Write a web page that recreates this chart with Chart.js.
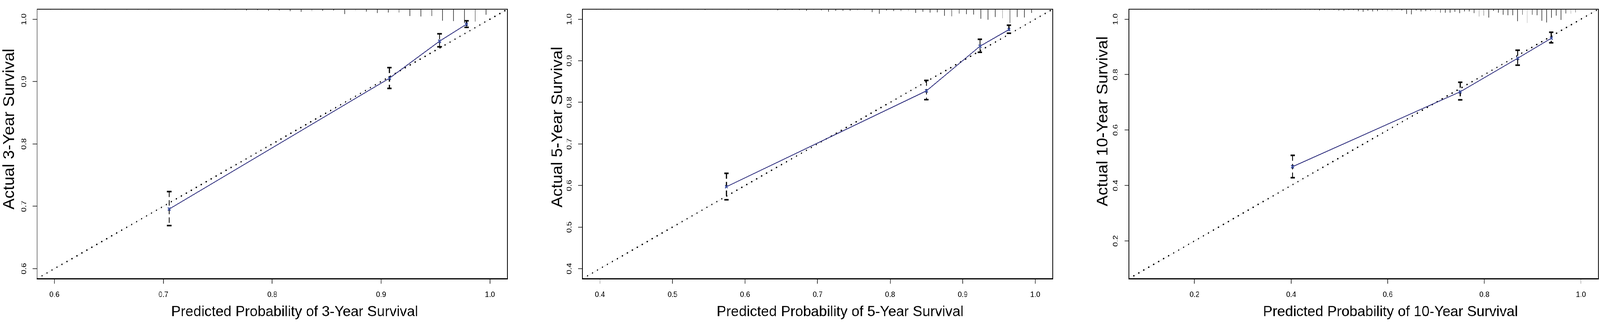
<!DOCTYPE html>
<html>
<head>
<meta charset="utf-8">
<script src="https://cdn.jsdelivr.net/npm/chart.js@4.4.1/dist/chart.umd.min.js"></script>
<style>
  html, body { margin: 0; padding: 0; background: #fff; overflow: hidden; }
  #wrap { position: absolute; left: 0; top: 0; width: 4724px; height: 824px; transform-origin: 0 0; }
  canvas { position: absolute; top: 0; }
</style>
</head>
<body>
<div id="wrap">
<canvas id="c3" width="1520" height="824" style="left:0px"></canvas>
<canvas id="c5" width="1570" height="824" style="left:1560px"></canvas>
<canvas id="c10" width="1549" height="824" style="left:3175px"></canvas>
</div>
<script>
// ---- 3-year calibration ----
const lim3 = [0.584, 1.016];
const ticks3 = [0.6, 0.7, 0.8, 0.9, 1.0];
const pred3 = [0.7054, 0.9077, 0.9537, 0.9785];
const obs3 = [0.6956, 0.9054, 0.9647, 0.992];
const lo3 = [0.669, 0.889, 0.9557, 0.987];
const hi3 = [0.7236, 0.9224, 0.9766, 0.9974];
const rugX3 = [0.5865,0.5965,0.6065,0.6165,0.6265,0.6365,0.6465,0.6565,0.6665,0.6765,
  0.6865,0.6965,0.7065,0.7165,0.7265,0.7365,0.7465,0.7565,0.7665,0.7765,
  0.7865,0.7965,0.8065,0.8165,0.8265,0.8365,0.8465,0.8565,0.8665,0.8765,
  0.8865,0.8965,0.9065,0.9165,0.9265,0.9365,0.9465,0.9565,0.9665,0.9765,
  0.9865,0.9965];
const rugN3 = [1,1,0.7,1,0.7,1,1,0.7,1,1,
  1.3,1,1.3,1,1.3,1.3,1,1.7,2,3.3,
  2.3,4.3,3.3,5,6.7,5,4.3,3.3,12.8,4.7,
  6.2,10,8.7,8.7,17.7,19.2,17.7,30,31,36,
  32.3,14.6];

// ---- 5-year calibration ----
const lim5 = [0.376, 1.024];
const ticks5 = [0.4, 0.5, 0.6, 0.7, 0.8, 0.9, 1.0];
const pred5 = [0.5743, 0.850, 0.9238, 0.9637];
const obs5 = [0.597, 0.8276, 0.935, 0.975];
const lo5 = [0.5657, 0.8064, 0.9205, 0.9663];
const hi5 = [0.6292, 0.8527, 0.9518, 0.9855];
const rugX5 = [0.385,0.395,0.405,0.415,0.425,0.435,0.445,0.455,0.465,0.475,
  0.485,0.495,0.505,0.515,0.525,0.535,0.545,0.555,0.565,0.575,
  0.585,0.595,0.605,0.615,0.625,0.635,0.645,0.655,0.665,0.675,
  0.685,0.695,0.705,0.715,0.725,0.735,0.745,0.755,0.765,0.775,
  0.785,0.795,0.805,0.815,0.825,0.835,0.845,0.855,0.865,0.875,
  0.885,0.895,0.905,0.915,0.925,0.935,0.945,0.955,0.965,0.975,
  0.985,0.995];
const rugN5 = [0.7,0.7,0.7,1.5,0.7,1,0.7,0.7,0.7,0.7,
  0.7,0.7,0.7,0.7,0.7,1,2,0.7,0.7,0.7,
  0.7,0.7,2,0.7,0.7,1,3,2.3,1.7,2.3,
  4.3,3.3,3.3,6.7,4.3,4.3,4.3,3.3,3.3,7.7,
  12.3,3.3,5,5,5,10,6.7,9,8.3,17.7,
  19,11.7,13.3,14.3,25.7,28.3,21,24.3,37,21,
  22.3,10];

// ---- 10-year calibration ----
const lim10 = [0.064, 1.036];
const ticks10 = [0.2, 0.4, 0.6, 0.8, 1.0];
const pred10 = [0.403, 0.75, 0.869, 0.9386];
const obs10 = [0.468, 0.738, 0.859, 0.9314];
const lo10 = [0.428, 0.709, 0.834, 0.915];
const hi10 = [0.509, 0.7726, 0.888, 0.953];
const rugX10 = [0.089,0.099,0.109,0.119,0.129,0.139,0.149,0.159,0.169,0.179,
  0.189,0.199,0.209,0.219,0.229,0.239,0.249,0.259,0.269,0.279,
  0.289,0.299,0.309,0.319,0.329,0.339,0.349,0.359,0.369,0.379,
  0.389,0.399,0.409,0.419,0.429,0.439,0.449,0.459,0.469,0.479,
  0.489,0.499,0.509,0.519,0.529,0.539,0.549,0.559,0.569,0.579,
  0.589,0.599,0.609,0.619,0.629,0.639,0.649,0.659,0.669,0.679,
  0.689,0.699,0.709,0.719,0.729,0.739,0.749,0.759,0.769,0.779,
  0.789,0.799,0.809,0.819,0.829,0.839,0.849,0.859,0.869,0.879,
  0.889,0.899,0.909,0.919,0.929,0.939,0.949,0.959,0.969,0.979,
  0.989];
const rugN10 = [0.7,0.7,0.7,0.7,0.7,0.7,0.7,0.7,0.7,0.7,
  1.5,1.5,1.5,1.5,1.5,0.7,0.7,0.7,0.7,0.7,
  0.7,0.7,0.7,1.5,1.5,1.5,1.5,1.5,1.5,0.7,
  0.7,0.7,1.5,1.5,1.5,1.5,1.5,3.3,2.3,1.7,
  2.3,4.3,4.3,2.3,2.3,5,6.7,4.3,5.7,5,
  2.3,5,5,2.3,3.3,12.3,13.3,3.3,5.7,5,
  4.3,6.7,9,9,9,6.7,10,5.7,5.7,10,
  19,16.7,21.7,4.3,9,14.3,15.7,15.7,31,14.3,
  35.7,14.3,15.7,30,34.3,22.3,16.7,27.7,11,11.7,
  8.3];

const xTitles = ["Predicted Probability of 3-Year Survival", "Predicted Probability of 5-Year Survival", "Predicted Probability of 10-Year Survival"];
const yTitles = ["Actual 3-Year Survival", "Actual 5-Year Survival", "Actual 10-Year Survival"];

// layout of each panel (pixels inside its canvas)
const PANELS = [
  { id: 'c3',  axisW: 109.5, padR: 22, yTitleDx: -68.5, yTitleY: 536 },
  { id: 'c5',  axisW: 160,   padR: 22, yTitleDx: -60,   yTitleY: 531 },
  { id: 'c10', axisW: 158,   padR: 5,  yTitleDx: -63,   yTitleY: 528 }
];

// the page is laid out on a 4724x824 grid; squeeze it into the real viewport
const SX = Math.min(1, (window.innerWidth || 4724) / 4724);
const SY = Math.min(1, (window.innerHeight || 824) / 824);
document.getElementById('wrap').style.transform = 'scale(' + SX + ',' + SY + ')';

const FONT = '"Liberation Sans", Arial, Helvetica, sans-serif';
const NAVY = '#28287a';
const MARK = '#3b4ea0';
Chart.defaults.font.family = FONT;
Chart.defaults.color = '#000';

// frame + axis titles, placed like the R figure
const decor = {
  id: 'decor',
  afterDraw(chart, args, o) {
    const { ctx, chartArea: a } = chart;
    ctx.save();
    ctx.strokeStyle = '#000';
    ctx.lineWidth = 2;
    ctx.strokeRect(a.left, a.top, a.right - a.left, a.bottom - a.top);
    ctx.fillStyle = '#000';
    ctx.textAlign = 'left';
    ctx.textBaseline = 'alphabetic';

    ctx.save();
    ctx.font = '36px ' + FONT;
    ctx.translate(a.left + 396, 809);
    ctx.scale(1.17, 1);
    ctx.fillText(o.xTitle, 0, 0);
    ctx.restore();

    ctx.save();
    ctx.font = '42px ' + FONT;
    ctx.translate(a.left + o.yTitleDx, o.yTitleY);
    ctx.scale(1.1, 1);
    ctx.rotate(-Math.PI / 2);
    ctx.fillText(o.yTitle, 0, 0);
    ctx.restore();
    ctx.restore();
  }
};

function axis(lim, tickVals, isY, p) {
  return {
    type: 'linear',
    position: isY ? 'left' : 'bottom',
    min: lim[0],
    max: lim[1],
    afterBuildTicks: s => { s.ticks = tickVals.map(v => ({ value: v })); },
    afterFit: s => { if (isY) s.width = p.axisW; else s.height = 111; },
    ticks: isY
      ? { callback: v => v.toFixed(1), font: { size: 21 }, color: '#000', padding: 11,
          minRotation: 90, maxRotation: 90, crossAlign: 'center', autoSkip: false }
      : { callback: v => v.toFixed(1), font: { size: 21 }, color: '#000', padding: 16,
          maxRotation: 0, autoSkip: false },
    grid: { drawOnChartArea: false, drawTicks: true, tickLength: 13, tickWidth: 1.5, tickColor: '#000' },
    border: isY ? { display: false } : { display: true, color: '#000', width: 3 }
  };
}

function drawPanel(p, d, i) {
  const span = d.lim[1] - d.lim[0];
  const rugMax = Math.max(...d.rugN);

  const rug = [];
  d.rugX.forEach((x, k) => {
    const h = d.rugN[k] / rugMax * 0.051 * span;
    rug.push({ x, y: d.lim[1] }, { x, y: d.lim[1] - h }, { x, y: null });
  });
  const ci = [];
  d.pred.forEach((x, k) => {
    ci.push({ x, y: d.hi[k] }, { x, y: d.lo[k] }, { x, y: null });
  });
  const caps = d.pred.flatMap((x, k) => [{ x, y: d.hi[k] }, { x, y: d.lo[k] }]);
  const obs = d.pred.map((x, k) => ({ x, y: d.obs[k] }));
  const diag = [{ x: d.lim[0], y: d.lim[0] }, { x: d.lim[1], y: d.lim[1] }];

  new Chart(document.getElementById(p.id), {
    type: 'line',
    data: {
      datasets: [
        { data: obs, borderColor: NAVY, borderWidth: 2, pointStyle: 'crossRot', pointRadius: 5.5,
          pointBorderWidth: 3, pointBorderColor: MARK, pointBackgroundColor: MARK, tension: 0 },
        { data: caps, showLine: false, pointStyle: 'line', pointRadius: 6.5,
          pointBorderWidth: 4, pointBorderColor: '#000' },
        { data: ci, borderColor: '#000', borderWidth: 3, borderDash: [14, 8], pointRadius: 0 },
        { data: diag, borderColor: '#000', borderWidth: 4, borderDash: [0, 16.4],
          borderCapStyle: 'round', pointRadius: 0 },
        { data: diag, borderColor: '#dddddd', borderWidth: 1, pointRadius: 0 },
        { data: rug, borderColor: '#000', borderWidth: 1.3, pointRadius: 0 }
      ]
    },
    options: {
      responsive: false,
      animation: false,
      devicePixelRatio: 1,
      layout: { autoPadding: false, padding: { top: 5, right: p.padR, left: 0, bottom: 0 } },
      plugins: {
        legend: { display: false },
        tooltip: { enabled: false },
        decor: { xTitle: xTitles[i], yTitle: yTitles[i], yTitleDx: p.yTitleDx, yTitleY: p.yTitleY }
      },
      scales: {
        x: axis(d.lim, d.ticks, false, p),
        y: axis(d.lim, d.ticks, true, p)
      }
    },
    plugins: [decor]
  });
}

drawPanel(PANELS[0], { lim: lim3, ticks: ticks3, pred: pred3, obs: obs3, lo: lo3, hi: hi3, rugX: rugX3, rugN: rugN3 }, 0);
drawPanel(PANELS[1], { lim: lim5, ticks: ticks5, pred: pred5, obs: obs5, lo: lo5, hi: hi5, rugX: rugX5, rugN: rugN5 }, 1);
drawPanel(PANELS[2], { lim: lim10, ticks: ticks10, pred: pred10, obs: obs10, lo: lo10, hi: hi10, rugX: rugX10, rugN: rugN10 }, 2);
</script>
</body>
</html>
